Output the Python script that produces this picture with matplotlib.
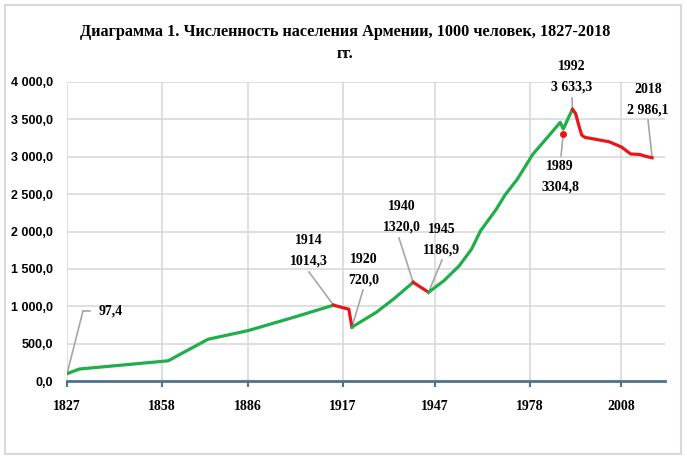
import matplotlib
matplotlib.use('Agg')
import matplotlib.pyplot as plt
from matplotlib.patches import Rectangle

W, H = 687, 458

# ---- data ----
green1_years = [1827, 1831, 1860, 1873, 1886, 1900, 1914]
green1_vals = [97.4, 160, 270, 558, 673, 840, 1014.3]
red1_years = [1914, 1919, 1920]
red1_vals = [1014.3, 960, 720.0]
green2_years = [1920, 1922, 1928, 1934, 1940]
green2_vals = [720.0, 770, 920, 1110, 1320.0]
red2_years = [1940, 1945]
red2_vals = [1320.0, 1186.9]
green3_years = [1945, 1950, 1955, 1959, 1962, 1967, 1970, 1974, 1979, 1983, 1988, 1989, 1990, 1991, 1992]
green3_vals = [1186.9, 1340, 1540, 1760, 2010, 2290, 2490, 2700, 3030, 3220, 3460, 3370, 3460, 3550, 3633.3]
red3_years = [1992, 1993, 1994, 1995, 1996, 2000, 2004, 2008, 2011, 2014, 2016, 2018]
red3_vals = [3633.3, 3580, 3430, 3290, 3260, 3230, 3200, 3130, 3037, 3030, 3005, 2986.1]
dot_year = [1989]
dot_val = [3304.8]

xticks = [1827, 1858, 1886, 1917, 1947, 1978, 2008]
yticks = [0, 500, 1000, 1500, 2000, 2500, 3000, 3500, 4000]
ytick_labels = ['0,0', '500,0', '1 000,0', '1 500,0', '2 000,0', '2 500,0', '3 000,0', '3 500,0', '4 000,0']

title = 'Диаграмма 1. Численность населения Армении, 1000 человек, 1827-2018\nгг.'

# annotations: (year, value, label)
ann_year = [1827, 1914, 1920, 1940, 1945, 1992, 2018, 1989]
ann_val = [97.4, 1014.3, 720.0, 1320.0, 1186.9, 3633.3, 2986.1, 3304.8]
ann_text = ['97,4', '1914\n1014,3', '1920\n720,0', '1940\n1320,0', '1945\n1186,9',
            '1992\n3 633,3', '2018\n2 986,1', '1989\n3304,8']
# layout (pixel positions in the image): text centre, leader end
ann_text_px = [(111, 311), (309, 251), (364, 270), (402, 217), (442, 240),
               (572, 77), (648, 100), (560, 177)]
ann_lead_px = [[(83, 311), (90, 311)], [(309, 272)], [(363, 290)], [(399, 238)], [(442, 260)],
               [(572, 98)], [(648, 120)], [(561, 156)]]

GREEN = '#1fae4b'
RED = '#e8161b'

fig = plt.figure(figsize=(W / 100, H / 100), dpi=100)
fig.patch.set_facecolor('white')

def fpx(x, y):
    return (x / W, 1 - y / H)

# outer border
fig.patches.append(Rectangle(fpx(5, 454), (681 - 5) / W, (454 - 5) / H, transform=fig.transFigure,
                             fill=False, edgecolor='#d9d9d9', linewidth=1.5))

L, R, T, B = 67, 665, 82, 381
ax = fig.add_axes([L / W, 1 - B / H, (R - L) / W, (B - T) / H])
ax.set_xlim(1827, 2022.2)
ax.set_ylim(0, 4000)

for s in ['top', 'right', 'left']:
    ax.spines[s].set_visible(False)
ax.spines['bottom'].set_color('#4f7191')
ax.spines['bottom'].set_linewidth(2)

ax.set_xticks(xticks)
ax.set_yticks(yticks)
ax.set_yticklabels(ytick_labels, fontsize=9, fontweight='bold', family='Liberation Sans')
ax.set_xticklabels([str(x) for x in xticks], fontsize=10, fontweight='bold', family='Liberation Serif')
ax.tick_params(axis='x', length=4, width=1.5, color='#4f7191', pad=10)
ax.tick_params(axis='y', length=0, pad=10)
ax.grid(True, color='#d9d9d9', linewidth=1.2)
ax.set_axisbelow(True)

lw = 2.3
ax.plot(green1_years, green1_vals, color=GREEN, lw=lw, solid_joinstyle='round', zorder=3)
ax.plot(red1_years, red1_vals, color=RED, lw=lw, solid_joinstyle='round', zorder=3)
ax.plot(green2_years, green2_vals, color=GREEN, lw=lw, solid_joinstyle='round', zorder=3)
ax.plot(red2_years, red2_vals, color=RED, lw=lw, solid_joinstyle='round', zorder=3)
ax.plot(green3_years, green3_vals, color=GREEN, lw=lw, solid_joinstyle='round', zorder=3)
ax.plot(red3_years, red3_vals, color=RED, lw=lw, solid_joinstyle='round', zorder=3)
ax.plot(dot_year, dot_val, 'o', color=RED, ms=4, zorder=4)

for yr, v, txt, tpx, lead in zip(ann_year, ann_val, ann_text, ann_text_px, ann_lead_px):
    prev = ax.transData.transform((yr, v))
    for (lx, ly) in lead:
        disp = fig.transFigure.transform(fpx(lx, ly))
        ax.add_line(plt.Line2D([prev[0], disp[0]], [prev[1], disp[1]], transform=None,
                               color='#a6a6a6', lw=1.2, zorder=2))
        prev = disp
    fx, fy = fpx(*tpx)
    fig.text(fx, fy, txt, ha='center', va='center', fontsize=10, fontweight='bold',
             family='Liberation Serif', linespacing=1.75)

fig.text(345 / W, 1 - 43 / H, title, ha='center', va='center', fontsize=11.7,
         family='Liberation Serif', fontweight='bold', linespacing=1.45)

fig.savefig('out.png', dpi=100, facecolor='white')
